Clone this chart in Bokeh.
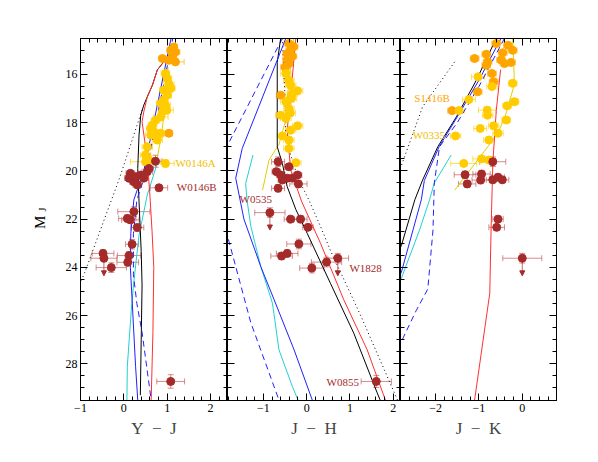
import numpy as np
from bokeh.plotting import figure
from bokeh.models import (Range1d, LinearAxis, FixedTicker, Whisker, TeeHead,
                          ColumnDataSource, Arrow, NormalHead, Label)
from bokeh.layouts import row
from bokeh.embed import file_html
from bokeh.resources import INLINE
from bokeh.core.properties import value

FONT = "Liberation Serif"
ORANGE = "#FFA500"
YELLOW = "#FFCC00"
RED = "#A52A2A"

# ---------------- data: Y - J panel ----------------
yj_or_x = [1.15, 1.19, 1.12, 0.89, 1.04, 1.19, 1.08, 1.04]
yj_or_y = [14.86, 15.07, 15.27, 15.34, 15.41, 15.48, 15.0, 18.44]
yj_or_xe = [0.08, 0.1, 0.1, 0.08, 0.1, 0.2, 0.08, 0.08]
yj_or_ye = [0.1, 0.1, 0.1, 0.1, 0.1, 0.1, 0.1, 0.1]

yj_ye_x = [0.96, 1.0, 1.04, 1.08, 0.92, 1.0, 0.92, 0.85, 0.96, 0.99, 0.89, 0.85, 0.73, 0.66, 0.62, 0.69, 0.85, 0.62, 0.77, 0.54, 0.50, 0.58, 0.50, 0.96]
yj_ye_y = [15.96, 16.17, 16.4, 16.58, 16.65, 16.86, 17.07, 17.2, 17.27, 17.48, 17.55, 17.76, 17.9, 18.1, 18.24, 18.38, 18.44, 18.51, 18.72, 19.0, 19.34, 19.55, 19.62, 19.69]
yj_ye_xe = [0.1, 0.1, 0.12, 0.1, 0.1, 0.1, 0.1, 0.1, 0.12, 0.15, 0.1, 0.17, 0.1, 0.1, 0.1, 0.1, 0.1, 0.12, 0.12, 0.12, 0.12, 0.15, 0.35, 0.2]
yj_ye_ye = [0.12, 0.12, 0.12, 0.12, 0.12, 0.12, 0.12, 0.12, 0.15, 0.15, 0.12, 0.15, 0.12, 0.12, 0.12, 0.12, 0.12, 0.15, 0.15, 0.15, 0.15, 0.2, 0.15, 0.15]

yj_rd_x = [0.73, 0.15, 0.12, 0.23, 0.31, 0.27, 0.39, 0.54, 0.58, 0.46, 0.81,
           0.23, 0.08, 0.15, 0.31, 0.19, -0.48, -0.46, 0.12, 0.09, -0.29, 1.08]
yj_rd_y = [19.6, 20.1, 20.3, 20.45, 20.58, 20.24, 20.17, 20.03, 19.9, 20.3, 20.7,
           21.69, 21.97, 22.03, 22.35, 23.04, 23.42, 23.62, 23.51, 23.79, 24.01, 28.73]
yj_rd_xe = [0.15, 0.1, 0.1, 0.1, 0.1, 0.1, 0.1, 0.12, 0.1, 0.1, 0.2,
            0.37, 0.2, 0.2, 0.15, 0.15, 0.25, 0.3, 0.27, 0.25, 0.35, 0.32]
yj_rd_ye = [0.25, 0.1, 0.12, 0.12, 0.1, 0.1, 0.1, 0.1, 0.1, 0.1, 0.12,
            0.2, 0.15, 0.15, 0.15, 0.2, 0.15, 0.15, 0.15, 0.15, 0.2, 0.28]

yj_arr_x = [-0.46]
yj_arr_y0 = [23.62]
yj_arr_y1 = [24.35]

# models, Y - J
yj_black_x = [1.04, 0.77, 0.66, 0.54, 0.46, 0.39, 0.35, 0.32, 0.35, 0.40, 0.42, 0.40, 0.38]
yj_black_y = [15.2, 15.82, 16.44, 16.93, 17.27, 17.69, 18.51, 19.9, 21.28, 23.35, 24.73, 27.0, 29.3]
yj_red_x = [1.04, 0.77, 0.66, 0.54, 0.46, 0.42, 0.50, 0.56, 0.60, 0.65, 0.69, 0.67, 0.63]
yj_red_y = [15.2, 15.82, 16.44, 16.93, 17.55, 17.96, 19.0, 20.0, 21.0, 22.5, 24.0, 26.7, 29.5]
yj_blue_x = [1.10, 0.46, 0.23, 0.16, 0.15, 0.19, 0.27, 0.32]
yj_blue_y = [14.4, 20.0, 21.2, 22.6, 24.0, 25.35, 28.1, 29.5]
yj_dash_x = [1.14, 0.52, 0.30, 0.22, 0.22, 0.30, 0.42, 0.63]
yj_dash_y = [14.4, 20.0, 21.2, 22.6, 24.3, 25.5, 26.7, 29.5]
yj_cyan_x = [0.77, 0.54, 0.35, 0.23, 0.17, 0.08, 0.07]
yj_cyan_y = [19.69, 21.0, 22.66, 24.6, 25.8, 28.1, 29.5]
yj_yel_x = [1.02, 0.94, 0.85, 0.73]
yj_yel_y = [15.7, 17.5, 18.7, 19.8]
yj_dot_x = [0.42, -0.10, -0.92, -1.0]
yj_dot_y = [17.48, 20.3, 24.3, 24.6]

# ---------------- data: J - H panel ----------------
jh_or_x = [-0.41, -0.38, -0.45, -0.33, -0.41, -0.45, -0.30, -0.50, -0.60]
jh_or_y = [14.72, 15.0, 15.14, 15.25, 15.55, 15.4, 14.85, 15.7, 16.86]
jh_or_xe = [0.1] * 9
jh_or_ye = [0.1] * 9

jh_ye_x = [-0.48, -0.41, -0.37, -0.21, -0.33, -0.48, -0.41, -0.60, -0.48, -0.21, -0.37, -0.56, -0.41, -0.41, -0.25, -0.35, -0.38]
jh_ye_y = [15.96, 16.24, 16.45, 16.68, 16.8, 17.13, 17.41, 17.69, 17.82, 18.13, 18.31, 18.55, 18.72, 19.07, 19.66, 17.0, 17.6]
jh_ye_xe = [0.12] * 17
jh_ye_ye = [0.12] * 17

jh_rd_x = [-0.66, -0.41, -0.70, -0.60, -0.21, -0.45, -0.33, -0.56, -0.19, -0.66,
           -0.85, -0.37, -0.14, 0.03, -0.18, -0.45, -0.58, 0.46, 0.72, 0.12, 1.61]
jh_rd_y = [19.62, 19.83, 20.03, 20.17, 20.17, 20.3, 20.3, 20.38, 20.54, 20.72,
           21.73, 22.0, 22.0, 22.34, 23.03, 23.42, 23.53, 23.78, 23.62, 24.03, 28.73]
jh_rd_xe = [0.15, 0.1, 0.1, 0.1, 0.1, 0.1, 0.1, 0.1, 0.2, 0.15,
            0.35, 0.15, 0.15, 0.12, 0.28, 0.25, 0.25, 0.35, 0.25, 0.28, 0.35]
jh_rd_ye = [0.2, 0.1, 0.1, 0.1, 0.1, 0.1, 0.1, 0.1, 0.15, 0.15,
            0.2, 0.12, 0.15, 0.12, 0.2, 0.15, 0.15, 0.2, 0.2, 0.2, 0.25]

jh_arr_x = [-0.85, 0.72]
jh_arr_y0 = [21.73, 23.62]
jh_arr_y1 = [22.45, 24.35]

jh_blue_x = [-0.48, -1.49, -1.64, -1.45, -1.06, -0.75, -0.29, 0.13]
jh_blue_y = [14.5, 19.07, 20.3, 22.0, 23.97, 25.35, 27.42, 29.5]
jh_cyan_x = [-1.24, -1.41, -1.38, -1.29, -1.06, -0.79, -0.64, -0.33, -0.2]
jh_cyan_y = [19.34, 20.52, 21.2, 22.3, 23.97, 25.49, 27.42, 28.94, 29.5]
jh_dash_x = [-0.56, -1.79, -2.2, -1.83, -1.29, -0.64]
jh_dash_y = [14.5, 18.8, 20.5, 22.7, 26.3, 29.5]
jh_black_x = [-0.6, -0.68, -0.68, -0.56, -0.45, -0.25, 0.016, 0.55, 1.09, 1.63, 1.7]
jh_black_y = [14.5, 15.5, 19.0, 19.7, 20.65, 21.6, 22.6, 24.66, 26.73, 29.2, 29.5]
jh_red_x = [-0.25, -0.37, -0.45, -0.37, -0.12, 0.32, 0.86, 1.40, 1.82]
jh_red_y = [14.5, 16.9, 18.3, 19.96, 21.25, 23.0, 25.35, 27.42, 29.5]
jh_dot_x = [-0.56, -0.5, -0.48, -0.2, 0.05, 0.32, 0.55, 1.25, 2.1]
jh_dot_y = [14.5, 17.0, 18.7, 20.3, 21.2, 22.3, 23.3, 26.0, 29.5]
jh_yel_x = [-1.02, -0.87, -0.64, -0.5, -0.42, -0.3]
jh_yel_y = [20.8, 19.55, 18.9, 18.0, 16.5, 14.5]

# ---------------- data: J - K panel ----------------
jk_or_x = [-0.60, -0.33, -0.22, -0.45, -0.83, -1.10, -0.80, -0.49, -0.41, -0.26, -0.83, -0.70, -0.66, -1.03, -1.62]
jk_or_y = [14.72, 14.79, 15.0, 15.1, 15.16, 15.34, 15.48, 15.4, 15.55, 15.5, 15.62, 15.96, 16.3, 16.72, 17.5]
jk_or_xe = [0.1] * 15
jk_or_ye = [0.1] * 15

jk_ye_x = [-1.02, -0.22, -0.70, -1.23, -0.18, -0.35, -0.81, -0.80, -1.46, -0.37, -0.97, -0.66, -0.56, -0.77, -1.54, -1.35, -0.94, -0.77]
jk_ye_y = [16.1, 16.37, 16.5, 17.04, 17.13, 17.3, 17.48, 17.69, 17.5, 17.89, 18.24, 18.13, 18.44, 18.72, 18.55, 19.69, 19.5, 19.55]
jk_ye_xe = [0.15, 0.1, 0.12, 0.15, 0.1, 0.1, 0.2, 0.12, 0.12, 0.1, 0.15, 0.12, 0.12, 0.12, 0.12, 0.3, 0.2, 0.15]
jk_ye_ye = [0.12] * 18

jk_rd_x = [-0.68, -1.32, -0.94, -1.27, -0.96, -0.68, -0.56, -0.46, -0.56, -0.59, 0.0]
jk_rd_y = [19.62, 20.16, 20.13, 20.54, 20.38, 20.37, 20.26, 20.37, 22.0, 22.34, 23.62]
jk_rd_xe = [0.3, 0.25, 0.2, 0.2, 0.2, 0.15, 0.15, 0.15, 0.12, 0.18, 0.45]
jk_rd_ye = [0.2, 0.15, 0.15, 0.15, 0.15, 0.12, 0.12, 0.12, 0.12, 0.12, 0.2]

jk_arr_x = [0.0]
jk_arr_y0 = [23.62]
jk_arr_y1 = [24.35]

jk_black_x = [-0.6, -1.06, -1.52, -1.95, -2.3, -2.48, -2.79, -2.85]
jk_black_y = [14.5, 16.24, 17.76, 19.0, 20.38, 21.2, 23.1, 23.3]
jk_blue_x = [-0.49, -1.0, -1.5, -1.92, -2.26, -2.33, -2.79, -2.85]
jk_blue_y = [14.5, 16.24, 17.76, 19.0, 20.4, 21.2, 24.2, 24.4]
jk_dash_x = [-0.41, -1.0, -1.5, -1.91, -2.03, -2.06, -2.18, -2.45, -2.85]
jk_dash_y = [14.5, 16.5, 18.0, 19.0, 20.5, 22.45, 24.9, 25.8, 27.3]
jk_cyan_x = [-1.64, -2.03, -2.14, -2.37, -2.79, -2.85]
jk_cyan_y = [19.34, 20.5, 21.2, 22.45, 24.45, 24.6]
jk_red_x = [-0.5, -0.6, -0.68, -0.72, -0.75, -1.1]
jk_red_y = [15.8, 17.5, 19.69, 22.45, 25.07, 29.5]
jk_dot_x = [-1.56, -2.3, -2.8]
jk_dot_y = [15.48, 17.34, 19.83]
jk_yel_x = [-0.22, -0.18, -0.37, -0.56, -1.56]
jk_yel_y = [14.5, 16.4, 17.6, 18.44, 20.8]

# axes
y_major = [16, 18, 20, 22, 24, 26, 28]
y_minor = [v / 2 for v in range(29, 60)]
YRANGE = (29.52, 14.51)


def style_axis(ax, show_labels):
    ax.axis_line_color = "black"
    ax.axis_line_width = 1
    ax.major_tick_in = 7
    ax.major_tick_out = 0
    ax.minor_tick_in = 4
    ax.minor_tick_out = 0
    ax.major_tick_line_color = "black"
    ax.minor_tick_line_color = "black"
    if show_labels:
        ax.major_label_text_font = FONT
        ax.major_label_text_font_size = "12px"
        ax.major_label_text_color = "black"
        ax.major_label_standoff = 3
    else:
        ax.major_label_text_font_size = "1px"
        ax.major_label_text_color = None
        ax.major_label_text_alpha = 0
        ax.major_label_standoff = 0


def make_panel(xr, fw, bl, br, xmaj, xmin, xlabel, ylabels):
    p = figure(frame_width=fw, frame_height=362, x_range=Range1d(*xr),
               y_range=Range1d(*YRANGE), output_backend="svg",
               toolbar_location=None, x_axis_location=None, y_axis_location=None,
               min_border_left=bl, min_border_right=br, min_border_top=38,
               min_border_bottom=45)
    p.xgrid.visible = False
    p.ygrid.visible = False
    p.outline_line_color = "black"
    p.background_fill_color = "white"
    p.border_fill_color = "white"
    over = {v: ("\u2212%d" % -v if v < 0 else "%d" % v) for v in xmaj}
    for loc in ["below", "above"]:
        ax = LinearAxis(ticker=FixedTicker(ticks=xmaj, minor_ticks=xmin))
        style_axis(ax, loc == "below")
        if loc == "below":
            ax.major_label_overrides = over
            ax.axis_label = xlabel
            ax.axis_label_text_font = FONT
            ax.axis_label_text_font_size = "17px"
            ax.axis_label_text_font_style = "normal"
            ax.axis_label_standoff = 4
        p.add_layout(ax, loc)
    for loc in ["left", "right"]:
        ax = LinearAxis(ticker=FixedTicker(ticks=y_major, minor_ticks=y_minor))
        style_axis(ax, ylabels and loc == "left")
        p.add_layout(ax, loc)
    return p


def add_points(p, x, y, xe, ye, color, ecolor):
    x = np.array(x); y = np.array(y); xe = np.array(xe); ye = np.array(ye)
    src = ColumnDataSource(dict(x=x, y=y, xl=x - xe, xh=x + xe, yl=y - ye, yh=y + ye))
    for base, lo, hi, dim in [("y", "xl", "xh", "width"), ("x", "yl", "yh", "height")]:
        w = Whisker(source=src, base=base, lower=lo, upper=hi, dimension=dim,
                    line_color=ecolor, line_alpha=0.65, line_width=1,
                    lower_head=TeeHead(size=6, line_color=ecolor, line_alpha=0.65),
                    upper_head=TeeHead(size=6, line_color=ecolor, line_alpha=0.65))
        p.add_layout(w)
    p.scatter("x", "y", source=src, size=8, marker="circle", fill_color=color,
              line_color=color)


def add_arrows(p, x, y0, y1):
    src = ColumnDataSource(dict(x=x, y0=y0, y1=y1))
    p.add_layout(Arrow(source=src, x_start="x", y_start="y0", x_end="x", y_end="y1",
                       line_color=RED, line_alpha=0.7, line_width=1,
                       end=NormalHead(size=5, fill_color=RED, line_color=RED)))


def add_models(p, lines):
    for xs, ys, col, dash in lines:
        p.line(xs, ys, line_color=col, line_width=1, line_dash=dash)


BLUE = "#2020FF"
CYAN = "#20D0D0"
LRED = "#FF3030"
YLINE = "#E0D000"

# strip holding the y-axis title (M_J)
p0 = figure(frame_width=60, frame_height=362, x_range=Range1d(0, 60),
            y_range=Range1d(*YRANGE), output_backend="svg", toolbar_location=None,
            x_axis_location=None, y_axis_location=None, min_border_left=0,
            min_border_right=0, min_border_top=38, min_border_bottom=45)
p0.xgrid.visible = False
p0.ygrid.visible = False
p0.outline_line_color = None
p0.text(x=[39], y=[22.13], text=["M"], angle=np.pi / 2, text_font=value(FONT),
        text_font_size="15px", text_align="center", text_baseline="middle",
        text_color="black")
p0.text(x=[42], y=[21.6], text=["J"], angle=np.pi / 2, text_font=value(FONT),
        text_font_size="10px", text_align="center", text_baseline="middle",
        text_color="black")

# panel 1
p1 = make_panel((-1.0, 2.39), 147, 20, 0, [-1, 0, 1, 2],
                [round(-1 + 0.2 * i, 1) for i in range(18)], "Y\u2002\u2212\u2002J", True)
add_models(p1, [(yj_dot_x, yj_dot_y, "black", "1 3"),
                (yj_yel_x, yj_yel_y, YLINE, "solid"),
                (yj_cyan_x, yj_cyan_y, CYAN, "solid"),
                (yj_black_x, yj_black_y, "black", "solid"),
                (yj_red_x, yj_red_y, LRED, "solid"),
                (yj_blue_x, yj_blue_y, BLUE, "solid"),
                (yj_dash_x, yj_dash_y, BLUE, "6 4")])
add_points(p1, yj_or_x, yj_or_y, yj_or_xe, yj_or_ye, ORANGE, ORANGE)
add_points(p1, yj_ye_x, yj_ye_y, yj_ye_xe, yj_ye_ye, YELLOW, YELLOW)
add_points(p1, yj_rd_x, yj_rd_y, yj_rd_xe, yj_rd_ye, RED, "#C05050")
add_arrows(p1, yj_arr_x, yj_arr_y0, yj_arr_y1)
p1.add_layout(Label(x=1.19, y=19.67, text="W0146A", text_font=FONT, text_font_size="11px",
                    text_color="#F0C000", text_baseline="middle"))
p1.add_layout(Label(x=1.22, y=20.67, text="W0146B", text_font=FONT, text_font_size="11px",
                    text_color=RED, text_baseline="middle"))

# panel 2
p2 = make_panel((-1.83, 2.17), 173, 0, 0, [-1, 0, 1, 2],
                [round(-1.8 + 0.2 * i, 1) for i in range(20)], "J\u2002\u2212\u2002H", False)
add_models(p2, [(jh_dot_x, jh_dot_y, "black", "1 3"),
                (jh_yel_x, jh_yel_y, YLINE, "solid"),
                (jh_cyan_x, jh_cyan_y, CYAN, "solid"),
                (jh_red_x, jh_red_y, LRED, "solid"),
                (jh_black_x, jh_black_y, "black", "solid"),
                (jh_blue_x, jh_blue_y, BLUE, "solid"),
                (jh_dash_x, jh_dash_y, BLUE, "6 4")])
add_points(p2, jh_or_x, jh_or_y, jh_or_xe, jh_or_ye, ORANGE, ORANGE)
add_points(p2, jh_ye_x, jh_ye_y, jh_ye_xe, jh_ye_ye, YELLOW, YELLOW)
add_points(p2, jh_rd_x, jh_rd_y, jh_rd_xe, jh_rd_ye, RED, "#C05050")
add_arrows(p2, jh_arr_x, jh_arr_y0, jh_arr_y1)
for tx, ty, t in [(-1.55, 21.17, "W0535"), (0.99, 24.02, "W1828"), (0.46, 28.75, "W0855")]:
    p2.add_layout(Label(x=tx, y=ty, text=t, text_font=FONT, text_font_size="11px",
                        text_color=RED, text_baseline="middle"))

# panel 3
p3 = make_panel((-2.81, 0.79), 156, 0, 20, [-2, -1, 0],
                [round(-2.8 + 0.2 * i, 1) for i in range(18)], "J\u2002\u2212\u2002K", False)
add_models(p3, [(jk_dot_x, jk_dot_y, "black", "1 3"),
                (jk_yel_x, jk_yel_y, YLINE, "solid"),
                (jk_cyan_x, jk_cyan_y, CYAN, "solid"),
                (jk_red_x, jk_red_y, LRED, "solid"),
                (jk_black_x, jk_black_y, "black", "solid"),
                (jk_blue_x, jk_blue_y, BLUE, "solid"),
                (jk_dash_x, jk_dash_y, BLUE, "6 4")])
add_points(p3, jk_or_x, jk_or_y, jk_or_xe, jk_or_ye, ORANGE, ORANGE)
add_points(p3, jk_ye_x, jk_ye_y, jk_ye_xe, jk_ye_ye, YELLOW, YELLOW)
add_points(p3, jk_rd_x, jk_rd_y, jk_rd_xe, jk_rd_ye, RED, "#C05050")
add_arrows(p3, jk_arr_x, jk_arr_y0, jk_arr_y1)
p3.add_layout(Label(x=-2.49, y=16.98, text="S1416B", text_font=FONT, text_font_size="11px",
                    text_color=ORANGE, text_baseline="middle"))
p3.add_layout(Label(x=-2.53, y=18.5, text="W0335", text_font=FONT, text_font_size="11px",
                    text_color="#F0C000", text_baseline="middle"))

layout = row(p0, p1, p2, p3)
open("out.html", "w").write(file_html(layout, INLINE))
